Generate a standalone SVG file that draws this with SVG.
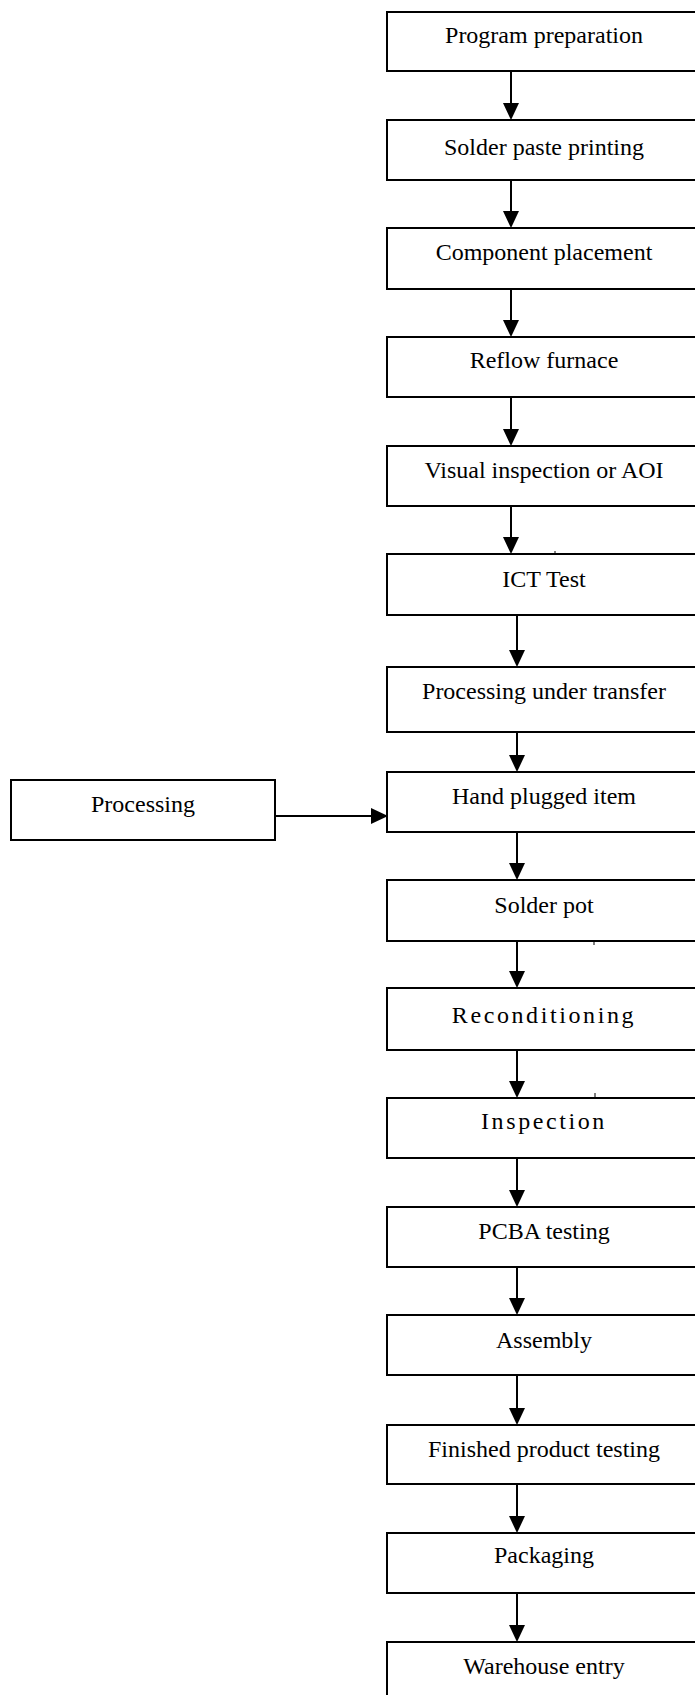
<svg xmlns="http://www.w3.org/2000/svg" width="695" height="1695" viewBox="0 0 695 1695">
<style>
.box{fill:#fff;stroke:#000;stroke-width:2}
.lbl{font-family:"Liberation Serif","Times New Roman",serif;font-size:24px;fill:#000;text-anchor:middle}
.sp{letter-spacing:2.6px}
.cn{fill:none;stroke:#000;stroke-width:2}
.tick{stroke:#000;stroke-width:1}
</style>
<defs>
<marker id="ah" markerUnits="userSpaceOnUse" markerWidth="17" markerHeight="16" viewBox="0 0 17 16" refX="0" refY="8" orient="auto">
<path d="M0,0 L17,8 L0,16 Z" fill="#000"/>
</marker>
</defs>
<rect width="695" height="1695" fill="#fff"/>
<g id="n1"><rect class="box" x="387" y="12" width="313" height="59"/><text class="lbl" x="544" y="43">Program preparation</text></g>
<g id="n2"><rect class="box" x="387" y="120" width="313" height="60"/><text class="lbl" x="544" y="155">Solder paste printing</text></g>
<g id="n3"><rect class="box" x="387" y="228" width="313" height="61"/><text class="lbl" x="544" y="260">Component placement</text></g>
<g id="n4"><rect class="box" x="387" y="337" width="313" height="60"/><text class="lbl" x="544" y="368">Reflow furnace</text></g>
<g id="n5"><rect class="box" x="387" y="446" width="313" height="60"/><text class="lbl" x="544" y="478">Visual inspection or AOI</text></g>
<g id="n6"><rect class="box" x="387" y="554" width="313" height="61"/><text class="lbl" x="544" y="587">ICT Test</text></g>
<g id="n7"><rect class="box" x="387" y="667" width="313" height="65"/><text class="lbl" x="544" y="699">Processing under transfer</text></g>
<g id="n8"><rect class="box" x="387" y="772" width="313" height="60"/><text class="lbl" x="544" y="804">Hand plugged item</text></g>
<g id="n9"><rect class="box" x="387" y="880" width="313" height="61"/><text class="lbl" x="544" y="913">Solder pot</text></g>
<g id="n10"><rect class="box" x="387" y="988" width="313" height="62"/><text class="lbl sp" x="544" y="1023">Reconditioning</text></g>
<g id="n11"><rect class="box" x="387" y="1098" width="313" height="60"/><text class="lbl sp" x="544" y="1129">Inspection</text></g>
<g id="n12"><rect class="box" x="387" y="1207" width="313" height="60"/><text class="lbl" x="544" y="1239">PCBA testing</text></g>
<g id="n13"><rect class="box" x="387" y="1315" width="313" height="60"/><text class="lbl" x="544" y="1348">Assembly</text></g>
<g id="n14"><rect class="box" x="387" y="1425" width="313" height="59"/><text class="lbl" x="544" y="1457">Finished product testing</text></g>
<g id="n15"><rect class="box" x="387" y="1533" width="313" height="60"/><text class="lbl" x="544" y="1563">Packaging</text></g>
<g id="n16"><rect class="box" x="387" y="1642" width="313" height="60"/><text class="lbl" x="544" y="1674">Warehouse entry</text></g>
<g id="n17"><rect class="box" x="11" y="780" width="264" height="60"/><text class="lbl" x="143" y="812">Processing</text></g>
<g id="connectors">
<path class="cn" d="M511,71 V103" marker-end="url(#ah)"/>
<path class="cn" d="M511,180 V211" marker-end="url(#ah)"/>
<path class="cn" d="M511,289 V320" marker-end="url(#ah)"/>
<path class="cn" d="M511,397 V429" marker-end="url(#ah)"/>
<path class="cn" d="M511,506 V537" marker-end="url(#ah)"/>
<path class="cn" d="M517,615 V650" marker-end="url(#ah)"/>
<path class="cn" d="M517,732 V755" marker-end="url(#ah)"/>
<path class="cn" d="M517,832 V863" marker-end="url(#ah)"/>
<path class="cn" d="M517,941 V971" marker-end="url(#ah)"/>
<path class="cn" d="M517,1050 V1081" marker-end="url(#ah)"/>
<path class="cn" d="M517,1158 V1190" marker-end="url(#ah)"/>
<path class="cn" d="M517,1267 V1298" marker-end="url(#ah)"/>
<path class="cn" d="M517,1375 V1408" marker-end="url(#ah)"/>
<path class="cn" d="M517,1484 V1516" marker-end="url(#ah)"/>
<path class="cn" d="M517,1593 V1625" marker-end="url(#ah)"/>
<path class="cn" d="M275,816 H371" marker-end="url(#ah)"/>
</g>
<g id="ticks">
<line class="tick" x1="555" y1="551" x2="555" y2="554"/>
<line class="tick" x1="594" y1="941" x2="594" y2="945"/>
<line class="tick" x1="595" y1="1093" x2="595" y2="1098"/>
</g>
</svg>
